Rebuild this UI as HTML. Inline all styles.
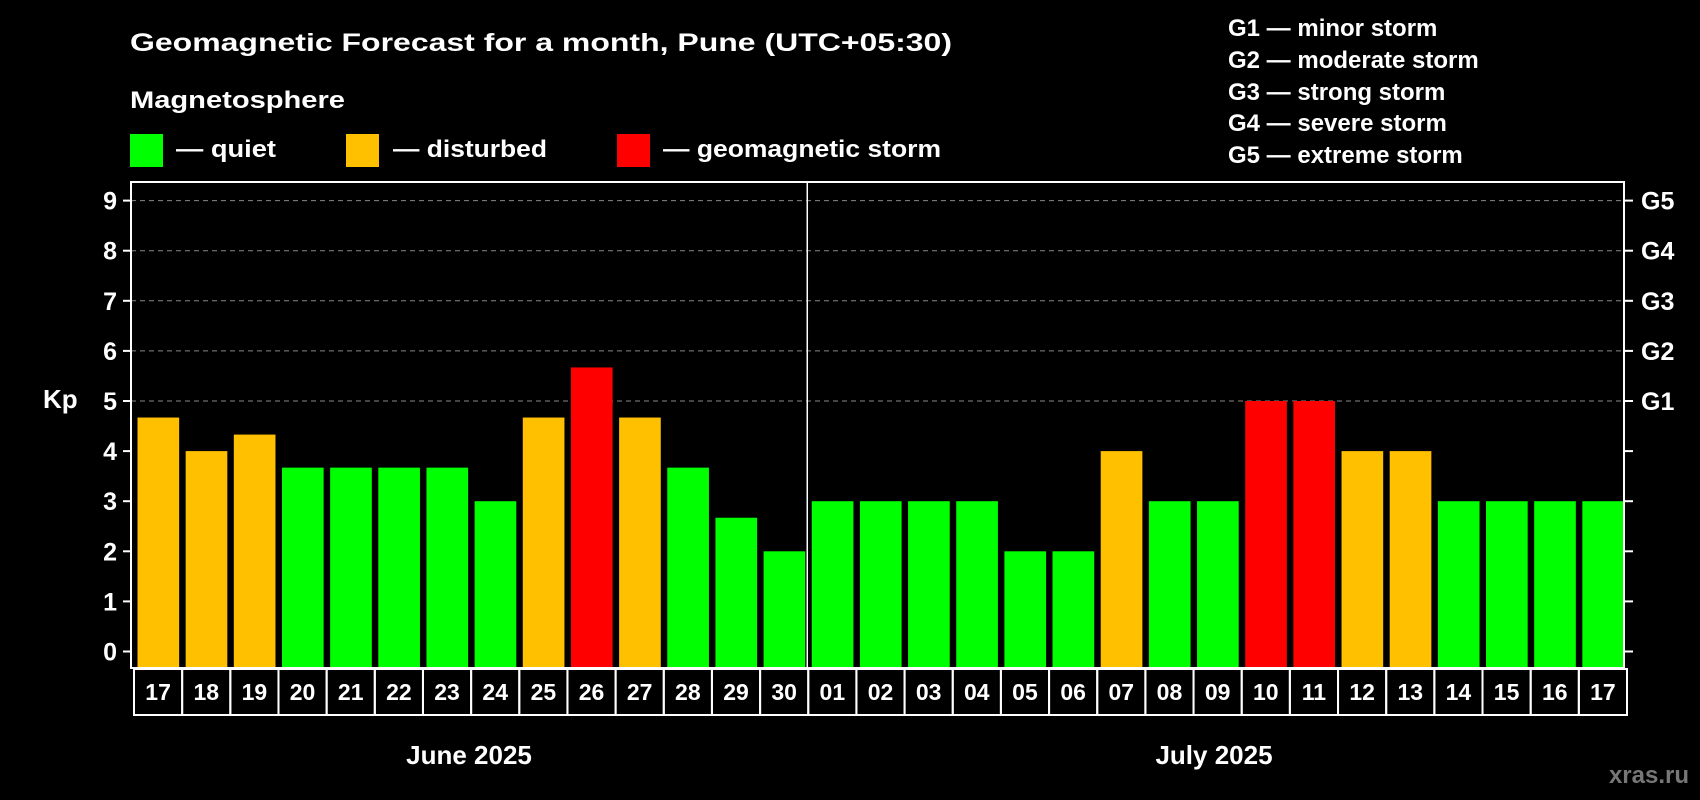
<!DOCTYPE html>
<html><head><meta charset="utf-8"><style>
html,body{margin:0;padding:0;background:#000;width:1700px;height:800px;overflow:hidden}
svg{display:block;font-family:"Liberation Sans",Arial,sans-serif;font-weight:bold}
</style></head><body>
<svg id="chart" width="1700" height="800" viewBox="0 0 1700 800" xmlns="http://www.w3.org/2000/svg">
<rect width="1700" height="800" fill="#000"/>
<text x="130" y="51" fill="#fff" font-size="25" textLength="822" lengthAdjust="spacingAndGlyphs">Geomagnetic Forecast for a month, Pune (UTC+05:30)</text>
<text x="130" y="108" fill="#fff" font-size="24" textLength="215" lengthAdjust="spacingAndGlyphs">Magnetosphere</text>
<g><rect x="130" y="134" width="33" height="33" fill="#00ff00"/><text x="176" y="157" fill="#fff" font-size="24" textLength="100" lengthAdjust="spacingAndGlyphs">— quiet</text></g>
<g><rect x="346" y="134" width="33" height="33" fill="#ffc000"/><text x="393" y="157" fill="#fff" font-size="24" textLength="154" lengthAdjust="spacingAndGlyphs">— disturbed</text></g>
<g><rect x="617" y="134" width="33" height="33" fill="#ff0000"/><text x="663" y="157" fill="#fff" font-size="24" textLength="278" lengthAdjust="spacingAndGlyphs">— geomagnetic storm</text></g>
<g fill="#fff" font-size="24">
<text x="1228" y="36">G1 — minor storm</text>
<text x="1228" y="68">G2 — moderate storm</text>
<text x="1228" y="100">G3 — strong storm</text>
<text x="1228" y="131">G4 — severe storm</text>
<text x="1228" y="163">G5 — extreme storm</text>
</g>
<text x="43" y="408" fill="#fff" font-size="26">Kp</text>
<text x="469" y="764" fill="#fff" font-size="26" text-anchor="middle">June 2025</text>
<text x="1214" y="764" fill="#fff" font-size="26" text-anchor="middle">July 2025</text>
<text x="1689" y="783" fill="#777" font-size="24" text-anchor="end">xras.ru</text>
<g id="plot"></g>
</svg>
<script>
const days = ["17","18","19","20","21","22","23","24","25","26","27","28","29","30","01","02","03","04","05","06","07","08","09","10","11","12","13","14","15","16","17"];
const kpValues = [4.67,4,4.33,3.67,3.67,3.67,3.67,3,4.67,5.67,4.67,3.67,2.67,2,3,3,3,3,2,2,4,3,3,5,5,4,4,3,3,3,3];
const levels = ["disturbed","disturbed","disturbed","quiet","quiet","quiet","quiet","quiet","disturbed","storm","disturbed","quiet","quiet","quiet","quiet","quiet","quiet","quiet","quiet","quiet","disturbed","quiet","quiet","storm","storm","disturbed","disturbed","quiet","quiet","quiet","quiet"];
const yTicks = [0,1,2,3,4,5,6,7,8,9];
const gLabels = ["","","","","","G1","G2","G3","G4","G5"];
const colors = {quiet:"#00ff00",disturbed:"#ffc000",storm:"#ff0000"};
const NS="http://www.w3.org/2000/svg";
const L=131,R=1624,T=182,B=668,y0=651.5,unit=50.1;
const pitch=(R-L)/days.length;
const yScale=v=>y0-v*unit;
const xScale=i=>L+i*pitch;
const g=document.getElementById('plot');
function mk(tag,attrs){const e=document.createElementNS(NS,tag);for(const k in attrs)e.setAttribute(k,attrs[k]);g.appendChild(e);return e;}
yTicks.forEach((t,i)=>{
  const y=yScale(t);
  if(t>=5){const gl=mk('line',{x1:L,x2:R,y1:y,y2:y,stroke:'#888','stroke-width':1,'stroke-dasharray':'5,4'});
    
    }
  const tl=mk('line',{x1:L-8,x2:L,y1:y,y2:y,stroke:'#fff','stroke-width':2});
  
  
  const tr=mk('line',{x1:R,x2:R+9,y1:y,y2:y,stroke:'#fff','stroke-width':2});
  
  
  const lab=mk('text',{x:117,y:y+9,fill:'#fff','font-size':25,'text-anchor':'end'});
  lab.textContent=t;
  
  
  if(gLabels[i]){const gt=mk('text',{x:1641,y:y+9,fill:'#fff','font-size':25});
    gt.textContent=gLabels[i];
    
    }
});
kpValues.forEach((v,i)=>{
  const x=xScale(i);
  const b=mk('rect',{x:x+6.5,y:yScale(v),width:pitch-6.5,height:B-yScale(v),fill:colors[levels[i]]});
  
  
  const c=mk('rect',{x:x+3,y:B+1,width:pitch,height:46,fill:'none',stroke:'#fff','stroke-width':2});
  
  
  const dt=mk('text',{x:x+3+pitch/2,y:B+32,fill:'#fff','font-size':23,'text-anchor':'middle'});
  dt.textContent=days[i];
  
  
});
const sep=mk('line',{x1:xScale(14)+2,x2:xScale(14)+2,y1:T,y2:B,stroke:'#fff','stroke-width':1.5});


const frame=mk('rect',{x:L,y:T,width:R-L,height:B-T,fill:'none',stroke:'#fff','stroke-width':2});


</script>
</body></html>
